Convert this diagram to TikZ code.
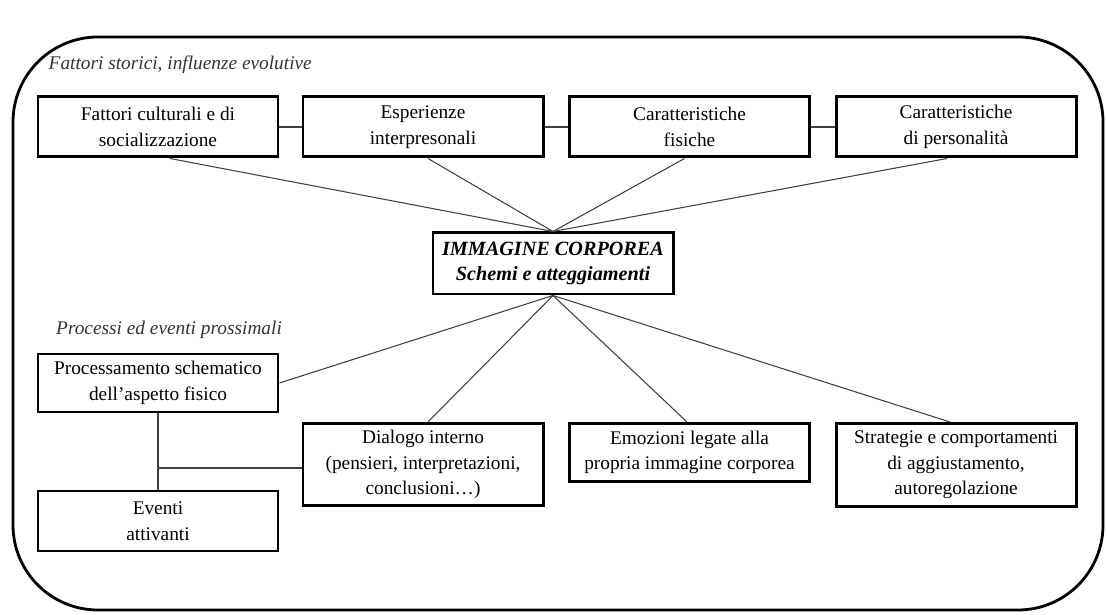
\documentclass[tikz,border=0pt]{standalone}
\usepackage{fontspec}
\setmainfont{Liberation Serif}
\usepackage{tikz}
\usetikzlibrary{positioning}

\begin{document}
\begin{tikzpicture}[
  fbox/.style={draw, line width=1.7pt, minimum width=4.8cm,
               minimum height=1.2cm, font=\fontsize{11}{14.5}\selectfont,
               align=center, inner sep=2pt},
  core/.style={fbox, font=\fontsize{11.5}{14.5}\selectfont\bfseries\itshape},
  lnk/.style={line width=0.6pt, black!75},
  grp/.style={font=\fontsize{11}{14}\selectfont\itshape, anchor=west, black!80},
]
\useasboundingbox (0,0) rectangle (22.14,12.3);

%% ---- Outer frame
\draw[line width=1.6pt, rounded corners=1.7cm] (0.26,0.1) rectangle (22.06,11.56);

%% ---- Column spacing
\def\ca{3.16}  % left column
\def\cb{8.46}
\def\cc{13.79}
\def\cd{19.12}

%% ---- Row heights
\def\rA{9.76}  % historical factors
\def\rB{7.03}  % body image
\def\rC{3.86}  % top edge of lower row

%% ======== Historical factors ========
\node[grp] (hist) at (0.85,11.0) {Fattori storici, influenze evolutive};

\node[fbox] (cult) at (\ca,\rA) {Fattori culturali e di\\socializzazione};
\node[fbox] (inter) at (\cb,\rA) {Esperienze\\interpresonali};
\node[fbox] (fis) at (\cc,\rA) {Caratteristiche\\fisiche};
\node[fbox] (pers) at (\cd,\rA) {Caratteristiche\\di personalità};

\draw[lnk] (cult) -- (inter);
\draw[lnk] (inter) -- (fis);
\draw[lnk] (fis) -- (pers);

%% ======== Body image ========
\node[core, minimum height=1.22cm] (img) at (11.06,\rB)
  {IMMAGINE CORPOREA\\Schemi e atteggiamenti};

\draw[lnk] ([xshift=0.24cm]cult.south) -- (img.north);
\draw[lnk] ([xshift=0.1cm]inter.south) -- (img.north);
\draw[lnk] ([xshift=-0.1cm]fis.south) -- (img.north);
\draw[lnk] ([xshift=-0.18cm]pers.south) -- (img.north);

%% ======== Proximal processes ========
\node[grp] (prox) at (1.0,5.7) {Processi ed eventi prossimali};

\node[fbox, minimum height=1.16cm] (proc) at (\ca,4.64)
  {Processamento schematico\\dell'aspetto fisico};
\node[fbox] (evt) at (\ca,1.88) {Eventi\\attivanti};
\node[fbox, anchor=north, minimum height=1.64cm] (dial) at (\cb,\rC)
  {Dialogo interno\\(pensieri, interpretazioni,\\conclusioni…)};
\node[fbox, anchor=north, minimum height=1.16cm] (emo) at (\cc,\rC)
  {Emozioni legate alla\\propria immagine corporea};
\node[fbox, anchor=north, minimum height=1.66cm] (strat) at (\cd,\rC)
  {Strategie e comportamenti\\di aggiustamento,\\autoregolazione};

\draw[lnk] (proc.east) -- (img.south);
\draw[lnk] ([xshift=0.1cm]dial.north) -- (img.south);
\draw[lnk] ([xshift=-0.05cm]emo.north) -- (img.south);
\draw[lnk] ([xshift=-0.12cm]strat.north) -- (img.south);

% link between the left boxes and the inner dialogue
\coordinate (jn) at (\ca,2.94);
\draw[lnk] (proc.south) -- (evt.north);
\draw[lnk] (jn) -- (dial.west |- jn);

\end{tikzpicture}
\end{document}
